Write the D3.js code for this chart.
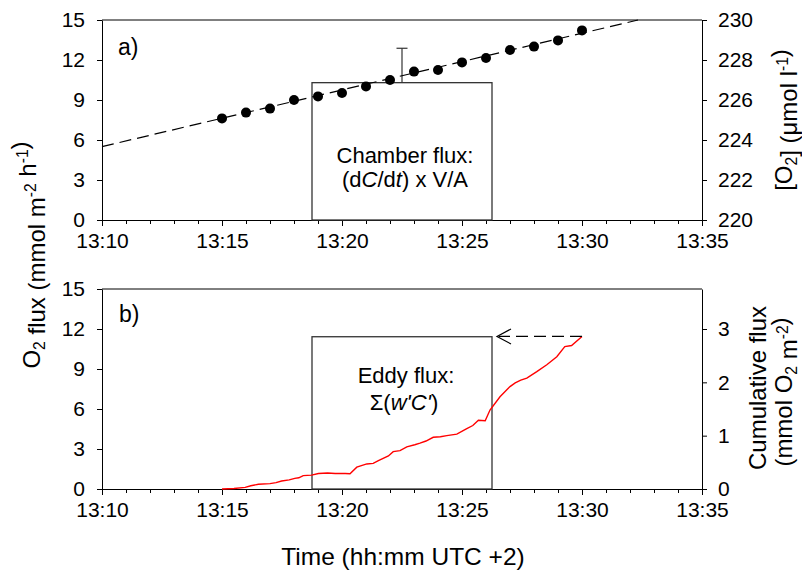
<!DOCTYPE html>
<html>
<head>
<meta charset="utf-8">
<script src="https://cdn.jsdelivr.net/npm/d3@7"></script>
<style>
  body { margin: 0; background: #fff; }
  text { font-family: "Liberation Sans", Arial, sans-serif; fill: #000; }
</style>
</head>
<body>
<script>
// times are minutes after 13:00

// panel a: O2 concentration in the chamber (right axis)
const o2Minutes = [15, 16, 17, 18, 19, 20, 21, 22, 23, 24, 25, 26, 27, 28, 29, 30];
const o2Values = [225.08, 225.37, 225.57, 226.0, 226.18, 226.35, 226.68, 227.0,
                  227.42, 227.5, 227.88, 228.1, 228.5, 228.67, 228.98, 229.48];

// fitted line through the O2 points
const fitMinutes = [10, 32.33];
const fitValues = [223.67, 230];

// flux boxes (left axis), same time window in both panels
const boxMinutes = [18.75, 26.25];
const chamberFlux = 10.3;
const chamberErr = 2.58;
const eddyFlux = 11.42;

// panel b: cumulative eddy flux (right axis)
const cumMinutes = [15.0, 15.5, 15.96, 16.2, 16.51, 17.0, 17.25, 17.49, 17.8, 18.04, 18.2, 18.39,
                    18.74, 19.01, 19.4, 19.71, 20.13, 20.33, 20.61, 21.03, 21.3, 21.51, 21.93,
                    22.14, 22.42, 22.70, 23.04, 23.25, 23.5, 23.80, 24.1, 24.36, 24.78, 25.20,
                    25.45, 25.68, 25.96, 26.17, 26.58, 27.0, 27.21, 27.45, 27.70, 28.11, 28.53,
                    28.95, 29.29, 29.57, 30.0];
const cumValues = [0, 0.01, 0.03, 0.06, 0.09, 0.10, 0.12, 0.15, 0.17, 0.20, 0.21, 0.25,
                   0.26, 0.29, 0.30, 0.29, 0.29, 0.285, 0.41, 0.47, 0.48, 0.53, 0.62,
                   0.70, 0.72, 0.79, 0.83, 0.86, 0.90, 0.97, 0.98, 1.0, 1.03, 1.13,
                   1.19, 1.29, 1.28, 1.48, 1.73, 1.92, 1.99, 2.04, 2.08, 2.2, 2.33,
                   2.48, 2.67, 2.69, 2.86];

const fluxTicks = [0, 3, 6, 9, 12, 15];
const o2Ticks = [220, 222, 224, 226, 228, 230];
const cumTicks = [0, 1, 2, 3];

const toDate = m => new Date(2000, 0, 1, 13, 0, Math.round(m * 60));

// layout
const width = 802, height = 570;
const left = 102, right = 702;
const topA = 20, topB = 289, plotH = 200;

const svg = d3.select('body').append('svg')
  .attr('width', width)
  .attr('height', height);

const x = d3.scaleTime()
  .domain([toDate(10), toDate(35)])
  .range([left, right]);

const yFluxA = d3.scaleLinear().domain([0, 15]).range([topA + plotH, topA]);
const yO2 = d3.scaleLinear().domain([220, 230]).range([topA + plotH, topA]);
const yFluxB = d3.scaleLinear().domain([0, 15]).range([topB + plotH, topB]);
const yCum = d3.scaleLinear().domain([0, 3.75]).range([topB + plotH, topB]);

// text with sub/superscripts and italics: parts = [[str, mode], ...]
function rich(sel, parts) {
  parts.forEach(([s, mode]) => {
    const t = sel.append('tspan').text(s);
    if (mode === 'sub') t.attr('font-size', '0.65em').attr('dy', '0.3em');
    if (mode === 'sup') t.attr('font-size', '0.65em').attr('dy', '-0.55em');
    if (mode === 'i') t.attr('font-style', 'italic');
    // return to baseline for the next part
    if (mode === 'sub' || mode === 'sup') {
      sel.append('tspan').attr('dy', mode === 'sub' ? '-0.195em' : '0.3575em').text('');
    }
  });
  return sel;
}

function drawAxes(yLeft, yRight, rightTicks, top) {
  const bottom = top + plotH;
  // frame top line
  svg.append('line')
    .attr('x1', left).attr('x2', right)
    .attr('y1', top).attr('y2', top)
    .attr('stroke', '#000');

  // minor x ticks every minute
  svg.append('g')
    .attr('transform', `translate(0,${bottom})`)
    .call(d3.axisBottom(x).ticks(d3.timeMinute.every(1)).tickSize(4).tickFormat(''))
    .call(g => g.select('.domain').remove());

  const gx = svg.append('g')
    .attr('transform', `translate(0,${bottom})`)
    .call(d3.axisBottom(x)
      .ticks(d3.timeMinute.every(5))
      .tickFormat(d3.timeFormat('%H:%M'))
      .tickSize(6).tickSizeOuter(0).tickPadding(7));
  gx.selectAll('text').attr('font-size', 21);

  const gl = svg.append('g')
    .attr('transform', `translate(${left},0)`)
    .call(d3.axisLeft(yLeft).tickValues(fluxTicks).tickFormat(d3.format('d'))
      .tickSize(5).tickSizeOuter(0).tickPadding(12));
  gl.selectAll('text').attr('font-size', 21);

  const gr = svg.append('g')
    .attr('transform', `translate(${right},0)`)
    .call(d3.axisRight(yRight).tickValues(rightTicks).tickFormat(d3.format('d'))
      .tickSize(5).tickSizeOuter(0).tickPadding(11));
  gr.selectAll('text').attr('font-size', 21);

  svg.selectAll('.domain, .tick line').attr('stroke', '#000');
}

drawAxes(yFluxA, yO2, o2Ticks, topA);
drawAxes(yFluxB, yCum, cumTicks, topB);

// ---- panel a ----
const xa0 = x(toDate(boxMinutes[0])), xa1 = x(toDate(boxMinutes[1]));
const xMid = (xa0 + xa1) / 2;

svg.append('rect')
  .attr('x', xa0).attr('y', yFluxA(chamberFlux))
  .attr('width', xa1 - xa0)
  .attr('height', yFluxA(0) - yFluxA(chamberFlux))
  .attr('fill', '#fff').attr('stroke', '#333').attr('stroke-width', 1.3);

// error bar
svg.append('line')
  .attr('x1', xMid).attr('x2', xMid)
  .attr('y1', yFluxA(chamberFlux)).attr('y2', yFluxA(chamberFlux + chamberErr))
  .attr('stroke', '#333').attr('stroke-width', 1.2);
svg.append('line')
  .attr('x1', xMid - 5.5).attr('x2', xMid + 5.5)
  .attr('y1', yFluxA(chamberFlux + chamberErr)).attr('y2', yFluxA(chamberFlux + chamberErr))
  .attr('stroke', '#333').attr('stroke-width', 1.2);

svg.append('text')
  .attr('x', xMid + 3).attr('y', 163)
  .attr('text-anchor', 'middle').attr('font-size', 22)
  .text('Chamber flux:');
rich(svg.append('text')
  .attr('x', xMid + 3).attr('y', 187)
  .attr('text-anchor', 'middle').attr('font-size', 22),
  [['(d', ''], ['C', 'i'], ['/d', ''], ['t', 'i'], [') x V/A', '']]);

// fitted dashed line
svg.append('path')
  .datum(fitMinutes.map((m, i) => [m, fitValues[i]]))
  .attr('fill', 'none')
  .attr('stroke', '#000').attr('stroke-width', 1.2)
  .attr('stroke-dasharray', '12,6')
  .attr('d', d3.line().x(d => x(toDate(d[0]))).y(d => yO2(d[1])));

svg.selectAll('.o2dot')
  .data(o2Minutes.map((m, i) => [m, o2Values[i]]))
  .enter().append('circle')
  .attr('class', 'o2dot')
  .attr('cx', d => x(toDate(d[0])))
  .attr('cy', d => yO2(d[1]))
  .attr('r', 5)
  .attr('fill', '#000');

svg.append('text')
  .attr('x', 118).attr('y', topA + 35)
  .attr('font-size', 23)
  .text('a)');

// ---- panel b ----
svg.append('rect')
  .attr('x', xa0).attr('y', yFluxB(eddyFlux))
  .attr('width', xa1 - xa0)
  .attr('height', yFluxB(0) - yFluxB(eddyFlux))
  .attr('fill', '#fff').attr('stroke', '#333').attr('stroke-width', 1.3);

svg.append('text')
  .attr('x', xMid + 4).attr('y', 383)
  .attr('text-anchor', 'middle').attr('font-size', 22)
  .text('Eddy flux:');
rich(svg.append('text')
  .attr('x', xMid + 2).attr('y', 410)
  .attr('text-anchor', 'middle').attr('font-size', 22),
  [['Σ(', ''], ["w'C'", 'i'], [')', '']]);

svg.append('path')
  .datum(cumMinutes.map((m, i) => [m, cumValues[i]]))
  .attr('fill', 'none')
  .attr('stroke', '#f00').attr('stroke-width', 1.4)
  .attr('d', d3.line().x(d => x(toDate(d[0]))).y(d => yCum(d[1])));

// dashed arrow from the end of the cumulative curve to the box
const endX = x(toDate(cumMinutes[cumMinutes.length - 1]));
const endY = yCum(cumValues[cumValues.length - 1]);
const tipX = xa1 + 5;
svg.append('line')
  .attr('x1', endX).attr('x2', tipX + 2)
  .attr('y1', endY).attr('y2', endY)
  .attr('stroke', '#000').attr('stroke-width', 1.2)
  .attr('stroke-dasharray', '12,6');
svg.append('path')
  .attr('d', `M${tipX + 14},${endY - 7.5}L${tipX},${endY}L${tipX + 14},${endY + 7.5}`)
  .attr('fill', 'none').attr('stroke', '#000').attr('stroke-width', 1.2);

svg.append('text')
  .attr('x', 119).attr('y', topB + 33)
  .attr('font-size', 23)
  .text('b)');

// ---- axis titles ----
rich(svg.append('text')
  .attr('transform', 'translate(40,255) rotate(-90)')
  .attr('text-anchor', 'middle').attr('font-size', 24),
  [['O', ''], ['2', 'sub'], [' flux (mmol m', ''], ['-2', 'sup'], [' h', ''], ['-1', 'sup'], [')', '']]);

rich(svg.append('text')
  .attr('transform', 'translate(792,120) rotate(-90)')
  .attr('text-anchor', 'middle').attr('font-size', 24),
  [['[O', ''], ['2', 'sub'], ['] (μmol l', ''], ['-1', 'sup'], [')', '']]);

svg.append('text')
  .attr('transform', 'translate(766,388) rotate(-90)')
  .attr('text-anchor', 'middle').attr('font-size', 24)
  .text('Cumulative flux');
rich(svg.append('text')
  .attr('transform', 'translate(792,392) rotate(-90)')
  .attr('text-anchor', 'middle').attr('font-size', 24),
  [['(mmol O', ''], ['2', 'sub'], [' m', ''], ['-2', 'sup'], [')', '']]);

svg.append('text')
  .attr('x', (left + right) / 2 + 1).attr('y', 565)
  .attr('text-anchor', 'middle').attr('font-size', 24.5)
  .text('Time (hh:mm UTC +2)');
</script>
</body>
</html>
